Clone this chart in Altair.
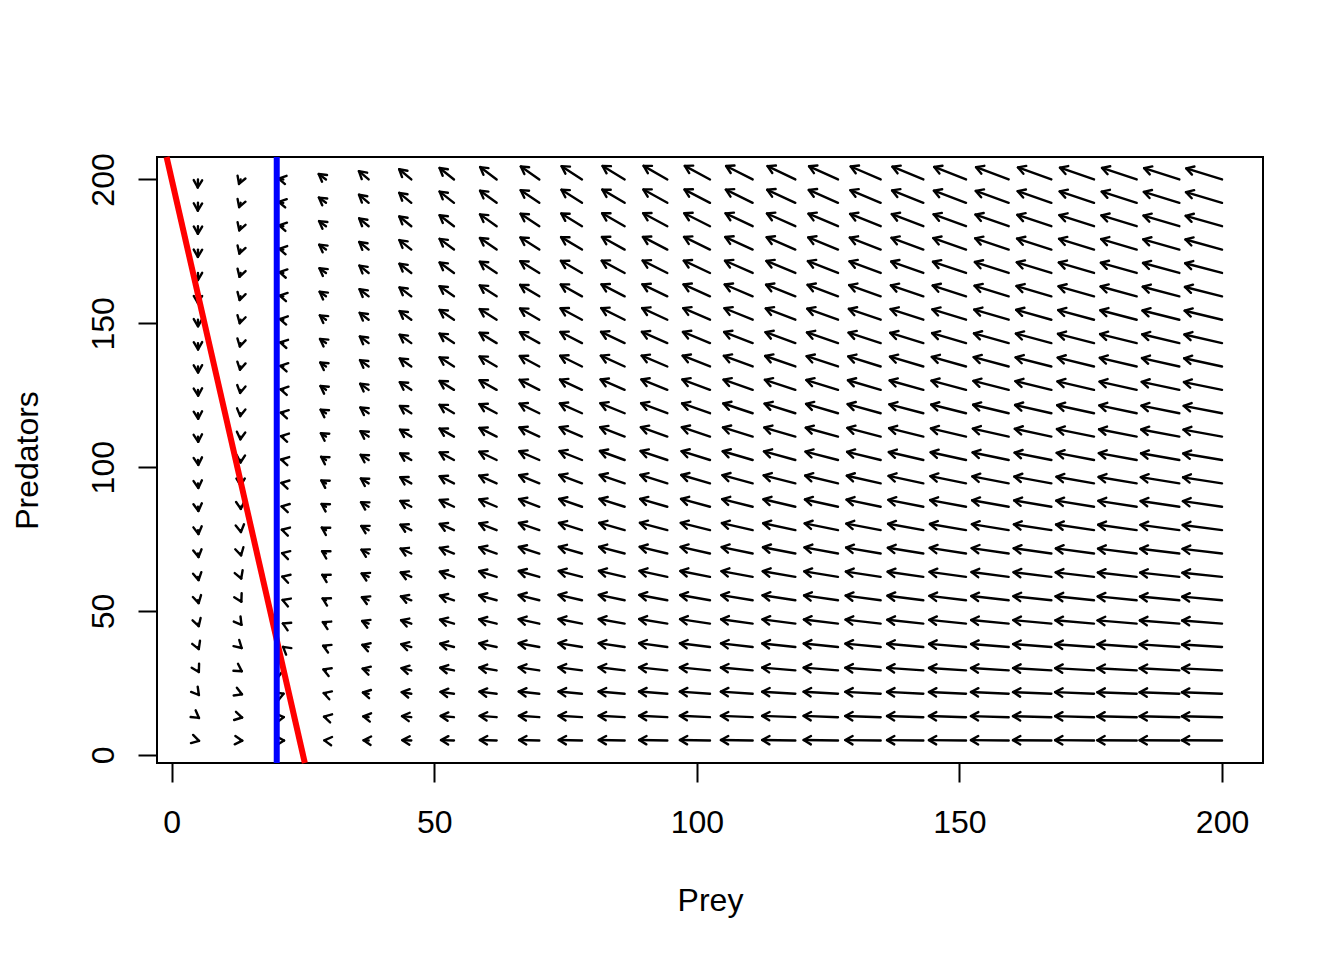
import altair as alt
import numpy as np
import pandas as pd

# ---- grid of arrow start points (prey, predators) ----
prey_grid = [5.0, 13.125, 21.25, 29.375, 37.5, 45.625, 53.75, 61.875, 70.0, 78.125,
             86.25, 94.375, 102.5, 110.625, 118.75, 126.875, 135.0, 143.125, 151.25,
             159.375, 167.5, 175.625, 183.75, 191.875, 200.0]
pred_grid = [5.0, 13.125, 21.25, 29.375, 37.5, 45.625, 53.75, 61.875, 70.0, 78.125,
             86.25, 94.375, 102.5, 110.625, 118.75, 126.875, 135.0, 143.125, 151.25,
             159.375, 167.5, 175.625, 183.75, 191.875, 200.0]

# ---- model read from the nullclines ----
r_prey = 1.0          # prey growth rate
K_prey = 25.0         # prey carrying capacity (red line hits x axis at 25)
attack = 0.005        # so prey nullcline meets y axis at 200
conv = 0.025          # predator conversion
prey_star = 20.0      # predator nullcline (blue line)
arrow_max = 8.47      # longest arrow, data units
arrow_half = 153.0    # speed giving half the longest arrow

# nullcline lines
red_intercept, red_slope = 200.0, -8.0
blue_x = 20.0

x_dom = [-2.8, 207.8]
y_dom = [-2.8, 207.8]
W, H = 1106, 606
ppx = W / (x_dom[1] - x_dom[0])
ppy = H / (y_dom[1] - y_dom[0])

rows = []
for px in prey_grid:
    for py in pred_grid:
        dx = r_prey * px * (1 - px / K_prey) - attack * r_prey * px * py
        dy = conv * py * (px - prey_star)
        m = np.hypot(dx, dy)
        L = arrow_max * m / (m + arrow_half)
        ux, uy = dx / m * L, dy / m * L
        ang = np.degrees(np.arctan2(ux * ppx, uy * ppy)) % 360
        rows.append(dict(x0=px, y0=py, x1=px + ux, y1=py + uy, ang=float(ang)))
df = pd.DataFrame(rows)

xs = alt.Scale(domain=x_dom, nice=False, zero=False)
ys = alt.Scale(domain=y_dom, nice=False, zero=False)

font = "Liberation Sans"
x_axis = alt.Axis(values=[0, 50, 100, 150, 200], domain=False, grid=False, tickSize=19,
                  tickWidth=2, tickColor="black", labelFontSize=32, labelFont=font,
                  labelColor="black", labelPadding=50, labelBaseline="alphabetic",
                  labelAlign="center", labelFlush=False, labelOverlap=False,
                  title="Prey", titleFontSize=32, titleFont=font, titleFontWeight="normal",
                  titleColor="black", titleX=553, titleY=147, titleBaseline="alphabetic",
                  titleAlign="center")
y_axis = alt.Axis(values=[0, 50, 100, 150, 200], domain=False, grid=False, tickSize=19,
                  tickWidth=2, tickColor="black", labelFontSize=32, labelFont=font,
                  labelColor="black", labelPadding=25, labelAngle=270,
                  labelBaseline="alphabetic", labelAlign="center", labelFlush=False,
                  labelOverlap=False,
                  title="Predators", titleFontSize=32, titleFont=font,
                  titleFontWeight="normal", titleColor="black", titleX=-120, titleY=303,
                  titleAngle=270, titleBaseline="alphabetic", titleAlign="center")

base = alt.Chart(df)
shafts = base.mark_rule(color="black", strokeWidth=2.4, strokeCap="round").encode(
    x=alt.X("x0:Q", scale=xs, axis=x_axis),
    y=alt.Y("y0:Q", scale=ys, axis=y_axis),
    x2="x1:Q",
    y2="y1:Q",
)
heads = base.mark_point(shape="M -0.5 0.866 L 0 0 L 0.5 0.866", filled=False,
                        stroke="black", strokeWidth=2.4, opacity=1, size=282,
                        strokeJoin="round", strokeCap="round").encode(
    x=alt.X("x1:Q", scale=xs),
    y=alt.Y("y1:Q", scale=ys),
    angle=alt.Angle("ang:Q", scale=None),
)

red_df = pd.DataFrame([dict(
    x=(y_dom[1] - red_intercept) / red_slope, y=y_dom[1],
    x2=(y_dom[0] - red_intercept) / red_slope, y2=y_dom[0])])
blue_df = pd.DataFrame([dict(x=blue_x, y=y_dom[0], x2=blue_x, y2=y_dom[1])])

red = alt.Chart(red_df).mark_rule(color="#FF0000", strokeWidth=6).encode(
    x=alt.X("x:Q", scale=xs), y=alt.Y("y:Q", scale=ys), x2="x2:Q", y2="y2:Q")
blue = alt.Chart(blue_df).mark_rule(color="#0000FF", strokeWidth=6).encode(
    x=alt.X("x:Q", scale=xs), y=alt.Y("y:Q", scale=ys), x2="x2:Q", y2="y2:Q")

chart = alt.layer(shafts, heads, red, blue).properties(
    width=W, height=H,
    padding={"left": 157, "top": 157, "right": 81, "bottom": 197},
    autosize=alt.AutoSizeParams(type="none"),
    background="white",
).configure_view(stroke="black", strokeWidth=2)

chart.save("out.html", embed_options={"renderer": "svg", "actions": False})
